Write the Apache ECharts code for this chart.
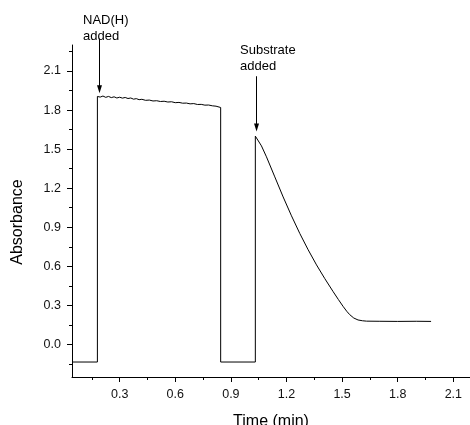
<!DOCTYPE html>
<html><head><meta charset="utf-8">
<script src="https://cdn.jsdelivr.net/npm/echarts@6/dist/echarts.min.js"></script>
<style>html,body{margin:0;padding:0;background:#fff}#c{width:470px;height:425px}</style>
</head><body><div id="c"></div>
<script>
// Time (min)
const time = [
  0.043, 0.180, 0.180, 0.195, 0.210, 0.225, 0.240, 0.255, 0.270, 0.285, 0.300,
  0.315, 0.330, 0.345, 0.360, 0.375, 0.390, 0.405, 0.420, 0.440, 0.460, 0.480,
  0.500, 0.520, 0.540, 0.560, 0.580, 0.600, 0.620, 0.640, 0.660, 0.680, 0.700,
  0.720, 0.740, 0.760, 0.780, 0.800, 0.820, 0.845, 0.845, 1.032, 1.032, 1.038,
  1.065, 1.092, 1.137, 1.182, 1.227, 1.272, 1.317, 1.362, 1.407, 1.452, 1.480,
  1.505, 1.525, 1.541, 1.563, 1.586, 1.610, 1.632, 1.700, 1.800, 1.900, 1.980
];
// Absorbance
const absorbance = [
  -0.135, -0.135, 1.905, 1.900, 1.908, 1.898, 1.905, 1.896, 1.902, 1.893, 1.899,
  1.892, 1.897, 1.889, 1.893, 1.884, 1.888, 1.880, 1.883, 1.875, 1.877, 1.870,
  1.872, 1.866, 1.868, 1.862, 1.864, 1.857, 1.859, 1.853, 1.854, 1.848, 1.850,
  1.843, 1.844, 1.838, 1.839, 1.833, 1.830, 1.820, -0.135, -0.135, 1.600, 1.610,
  1.525, 1.441, 1.287, 1.133, 0.988, 0.852, 0.727, 0.611, 0.505, 0.405, 0.345,
  0.293, 0.255, 0.229, 0.203, 0.188, 0.182, 0.179, 0.178, 0.177, 0.178, 0.177
];
const xMajorTicks = [0.3, 0.6, 0.9, 1.2, 1.5, 1.8, 2.1];
const xMinorTicks = [0.15, 0.45, 0.75, 1.05, 1.35, 1.65, 1.95];
const yMajorTicks = [0.0, 0.3, 0.6, 0.9, 1.2, 1.5, 1.8, 2.1];
const yMinorTicks = [-0.15, 0.15, 0.45, 0.75, 1.05, 1.35, 1.65, 1.95, 2.25];
const annotationTexts = ['NAD(H)\nadded', 'Substrate\nadded'];
const annotationX = [0.187, 1.034];
const annotationTextBottomY = [2.303, 2.072];
const arrowTopY = [2.35, 2.06];
const arrowTipY = [1.93, 1.635];

const FONT = '"Liberation Sans", Arial, sans-serif';
const X_MIN = 0.043, X_MAX = 2.19, Y_MIN = -0.25, Y_MAX = 2.3;

const chart = echarts.init(document.getElementById('c'), null, {renderer: 'canvas'});
const axisCommon = {type: 'value', splitLine: {show: false}, scale: false};
chart.setOption({
  animation: false,
  backgroundColor: '#fff',
  grid: {left: 72, top: 45, right: 0, bottom: 48, outerBoundsMode: 'none', containLabel: false},
  xAxis: [
    Object.assign({}, axisCommon, {
      min: X_MIN, max: X_MAX,
      name: 'Time (min)', nameLocation: 'middle', nameGap: 37,
      nameTextStyle: {fontFamily: FONT, fontSize: 16, color: '#000'},
      axisLine: {show: true, onZero: false, lineStyle: {color: '#000', width: 1}},
      axisTick: {show: true, length: 5, customValues: xMajorTicks, lineStyle: {color: '#000'}},
      axisLabel: {show: true, customValues: xMajorTicks, margin: 11, fontFamily: FONT, fontSize: 12.5, color: '#111',
        formatter: v => v.toFixed(1)}
    }),
    Object.assign({}, axisCommon, {
      min: X_MIN, max: X_MAX, position: 'bottom', offset: 0,
      axisLine: {show: false, onZero: false},
      axisTick: {show: true, length: 3, customValues: xMinorTicks, lineStyle: {color: '#000'}},
      axisLabel: {show: false}
    })
  ],
  yAxis: [
    Object.assign({}, axisCommon, {
      min: Y_MIN, max: Y_MAX,
      name: 'Absorbance', nameLocation: 'middle', nameGap: 46,
      nameTextStyle: {fontFamily: FONT, fontSize: 16, color: '#000', padding: [0, 22, 0, 0]},
      axisLine: {show: true, onZero: false, lineStyle: {color: '#000', width: 1}},
      axisTick: {show: true, length: 5, customValues: yMajorTicks, lineStyle: {color: '#000'}},
      axisLabel: {show: true, customValues: yMajorTicks, margin: 11, fontFamily: FONT, fontSize: 12.5, color: '#111',
        formatter: v => v.toFixed(1)}
    }),
    Object.assign({}, axisCommon, {
      min: Y_MIN, max: Y_MAX, position: 'left', offset: 0,
      axisLine: {show: false, onZero: false},
      axisTick: {show: true, length: 3, customValues: yMinorTicks, lineStyle: {color: '#000'}},
      axisLabel: {show: false}
    })
  ],
  series: [{
    type: 'line',
    xAxisIndex: 0, yAxisIndex: 0,
    data: time.map((t, i) => [t, absorbance[i]]),
    showSymbol: false, symbol: 'none',
    clip: false,
    lineStyle: {color: '#000', width: 1},
    silent: true
  }]
});

const graphics = [];
annotationX.forEach((ax, i) => {
  const top = chart.convertToPixel({gridIndex: 0}, [ax, arrowTopY[i]]);
  const tip = chart.convertToPixel({gridIndex: 0}, [ax, arrowTipY[i]]);
  const txt = chart.convertToPixel({gridIndex: 0}, [ax, annotationTextBottomY[i]]);
  const x = Math.round(top[0]) + 0.5;
  graphics.push({
    type: 'line', silent: true,
    shape: {x1: x, y1: top[1], x2: x, y2: tip[1] - 6},
    style: {stroke: '#000', lineWidth: 1}
  });
  graphics.push({
    type: 'polygon', silent: true,
    shape: {points: [[x - 2.5, tip[1] - 8], [x + 2.5, tip[1] - 8], [x, tip[1]]]},
    style: {fill: '#000'}
  });
  graphics.push({
    type: 'text', silent: true,
    x: x - 16.5, y: txt[1],
    style: {text: annotationTexts[i], font: '13px ' + FONT, fill: '#000',
      textAlign: 'left', textVerticalAlign: 'bottom', lineHeight: 16}
  });
});
chart.setOption({graphic: graphics});
</script>
</body></html>
